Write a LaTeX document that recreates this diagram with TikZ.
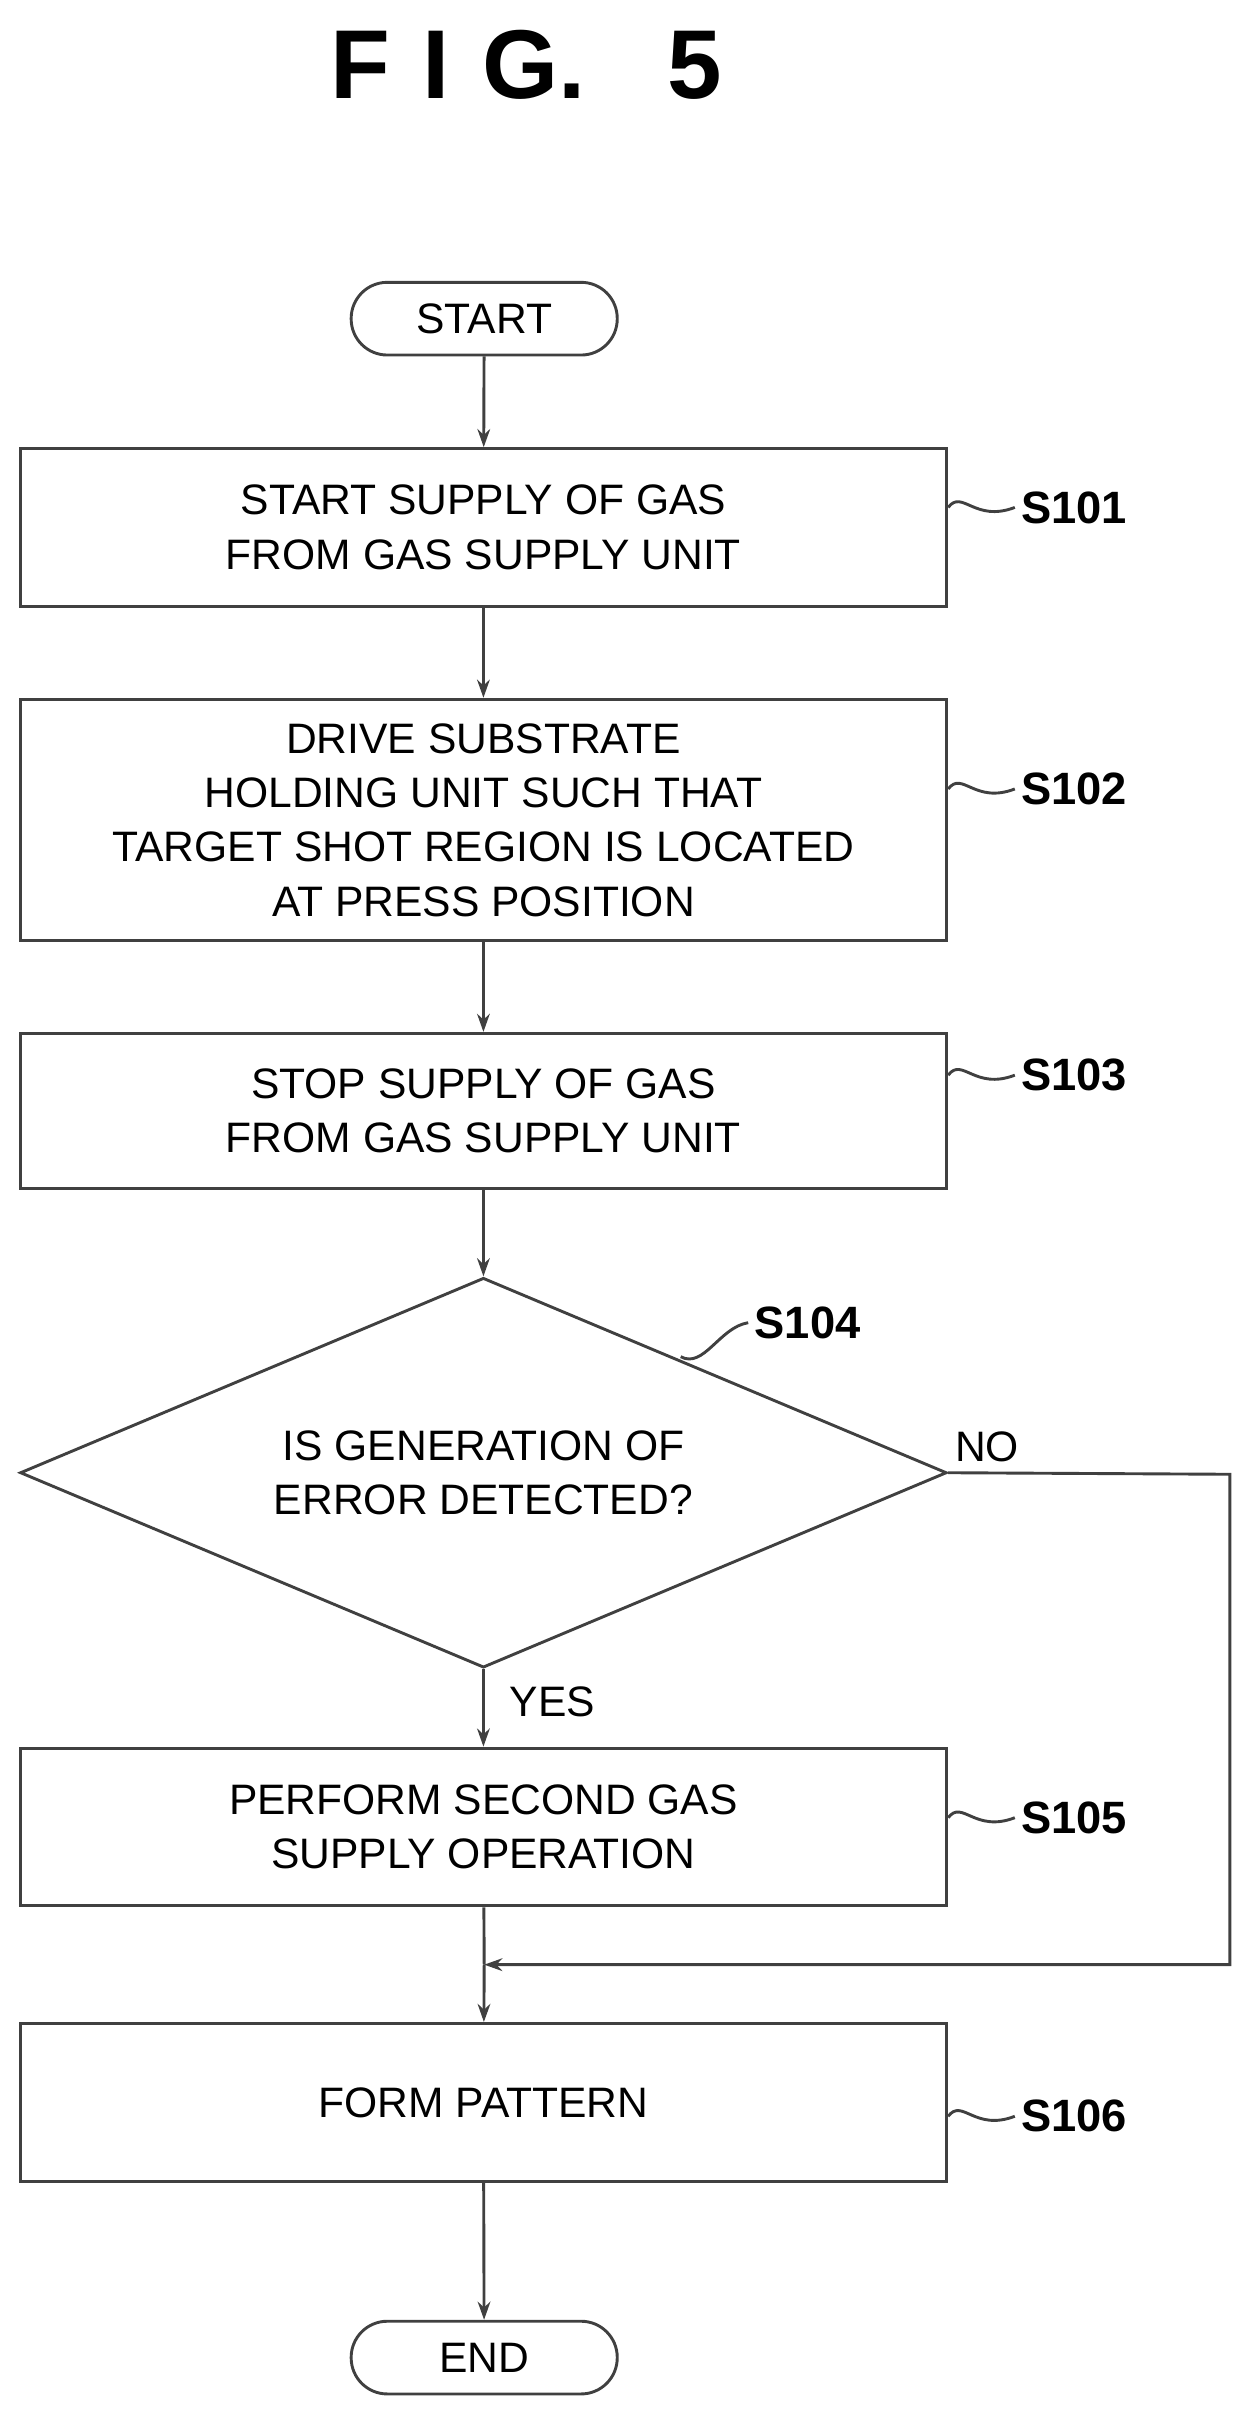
\documentclass[tikz,border=0pt]{standalone}
\usepackage{fontspec}
\setmainfont{Liberation Sans}
\usetikzlibrary{shapes.geometric,arrows.meta}
\begin{document}
\begin{tikzpicture}[x=0.03cm,y=-0.03cm,
  line/.style={draw=black!75,line width=1.6pt},
  box/.style={line,rectangle,minimum width=599*0.03cm,align=center,inner sep=0pt,font=\fontsize{23.5}{30}\selectfont},
  term/.style={line,rectangle,rounded corners=0.7cm,minimum width=172*0.03cm,minimum height=47*0.03cm,font=\fontsize{23.5}{30}\selectfont,inner sep=0pt},
  lab/.style={font=\bfseries\fontsize{25}{30}\selectfont},
  arr/.style={line,-{Stealth[length=10pt,width=7pt]}}]
\useasboundingbox (0,0) rectangle (808,1565);
\node[font=\bfseries\fontsize{54}{60}\selectfont] (title) at (340,42) {F\,\,I\,\,G.\ \ \ 5};
\node[term] (start) at (313,206) {START};
\node[box,minimum height=102*0.03cm] (s101) at (312.5,341) {START SUPPLY OF GAS\\FROM GAS SUPPLY UNIT};
\node[box,minimum height=156*0.03cm] (s102) at (312.5,530) {DRIVE SUBSTRATE\\HOLDING UNIT SUCH THAT\\TARGET SHOT REGION IS LOCATED\\AT PRESS POSITION};
\node[box,minimum height=100*0.03cm] (s103) at (312.5,718) {STOP SUPPLY OF GAS\\FROM GAS SUPPLY UNIT};
\node[line,diamond,minimum width=599*0.03cm,minimum height=252*0.03cm,inner sep=0pt,aspect=2.4] (s104) at (312.5,952) {};
\node[font=\fontsize{23.5}{30}\selectfont,align=center] (q) at (312.5,952) {IS GENERATION OF\\ERROR DETECTED?};
\node[box,minimum height=102*0.03cm] (s105) at (312.5,1181) {PERFORM SECOND GAS\\SUPPLY OPERATION};
\node[box,minimum height=102*0.03cm] (s106) at (312.5,1359) {FORM PATTERN};
\node[term] (end) at (313,1524) {END};
\draw[arr] (start) -- (s101);
\draw[arr] (s101) -- (s102);
\draw[arr] (s102) -- (s103);
\draw[arr] (s103) -- (s104.north);
\draw[arr] (s104.south) -- (s105);
\coordinate (m) at (313,1270);
\coordinate (nr) at (795,953);
\coordinate (nb) at (795,1270);
\draw[line] (s105) -- (m);
\draw[arr] (s104.east) -- (nr) -- (nb) -- (m);
\draw[arr] (m) -- (s106);
\draw[arr] (s106) -- (end);
\node[font=\fontsize{23.5}{30}\selectfont] (no) at (638,935) {NO};
\node[font=\fontsize{23.5}{30}\selectfont] (yes) at (357,1100) {YES};
\foreach \n/\y in {s101/328,s102/510,s103/695,s105/1175,s106/1368}{
  \node[lab,anchor=west] (l\n) at (656,\y) {\MakeUppercase{\n}};
  \draw[line] (\n.east |- 0,\y) .. controls (622,\y-12) and (630,\y+10) .. (l\n.west);
}
\node[lab] (l104) at (522,855) {S104};
\draw[line] (440,877) .. controls (455,885) and (465,858) .. (l104.west);
\end{tikzpicture}
\end{document}
